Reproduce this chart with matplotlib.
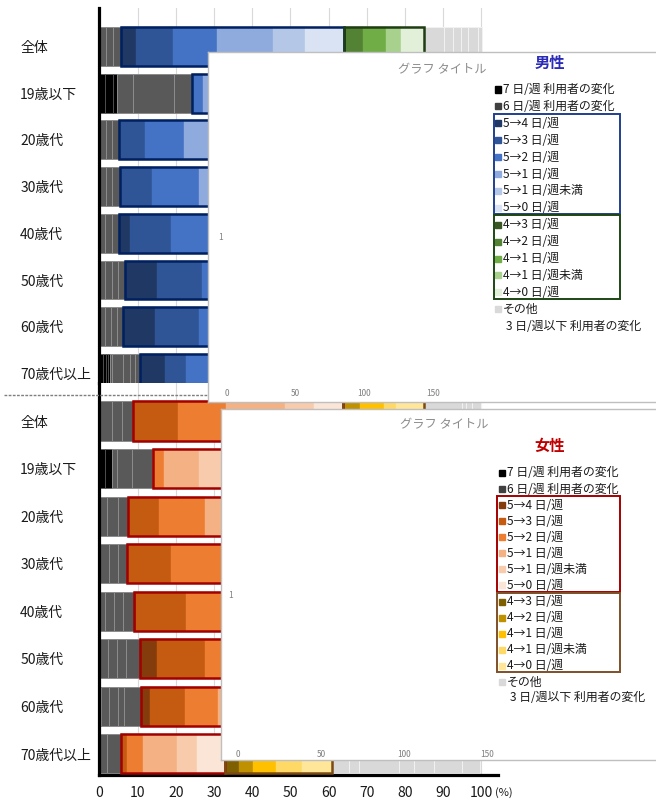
import matplotlib
matplotlib.use('Agg')
import matplotlib.pyplot as plt
from matplotlib.patches import Rectangle
from matplotlib.lines import Line2D

plt.rcParams['font.family'] = ['Noto Sans CJK JP', 'DejaVu Sans']

# ---- data (percent) ----
ROWS = ['全体', '19歳以下', '20歳代', '30歳代', '40歳代', '50歳代', '60歳代', '70歳代以上']

LEGEND_LABELS = ['7 日/週 利用者の変化', '6 日/週 利用者の変化',
                 '5→4 日/週', '5→3 日/週', '5→2 日/週', '5→1 日/週', '5→1 日/週未満', '5→0 日/週',
                 '4→3 日/週', '4→2 日/週', '4→1 日/週', '4→1 日/週未満', '4→0 日/週',
                 'その他', '3 日/週以下 利用者の変化']

# male: 7 days / 6 days users split into their change categories
male_d7 = [[], [1.5, 2.1, 1.0], [], [], [], [], [], [1.0, 0.7, 0.45, 0.6]]
male_d6 = [[1.8, 1.8, 2.0], [4.3, 10.7, 4.6], [1.7, 1.5, 2.0], [1.6, 1.6, 2.2],
           [1.5, 1.7, 2.0], [1.5, 1.7, 1.7, 1.8], [1.5, 1.6, 1.5, 1.7], [0.45, 3.0, 1.75, 1.3, 1.3]]
# 5->4, 5->3, 5->2, 5->1, 5->1未満, 5->0
male_d5 = [[4.1, 9.6, 11.4, 14.8, 8.3, 10.2], [0, 0, 2.9, 7.5, 6.0, 9.5],
           [0.2, 6.5, 10.2, 16.0, 9.0, 12.5], [0.2, 8.3, 12.2, 15.5, 8.5, 10.0],
           [2.8, 10.7, 12.5, 14.0, 7.5, 9.0], [8.3, 11.8, 12.0, 12.5, 6.5, 8.0],
           [8.3, 11.6, 11.0, 12.0, 6.0, 8.5], [6.5, 5.7, 9.0, 10.0, 5.5, 8.0]]
# 4->3, 4->2, 4->1, 4->1未満, 4->0
male_d4 = [[0.3, 4.6, 6.1, 3.9, 6.0], [0.5, 3.5, 6.0, 4.0, 8.0], [0.3, 4.2, 6.5, 4.0, 6.5],
           [0.3, 4.5, 6.0, 3.8, 6.2], [0.4, 5.0, 6.2, 3.5, 5.5], [0.6, 5.0, 5.5, 3.5, 5.0],
           [0.8, 5.0, 5.5, 3.0, 5.5], [1.5, 4.0, 5.0, 3.5, 6.0]]
male_other = [[5.2, 2.4, 2.1, 1.8, 2.6, 1.1], [10.0, 8.0, 9.9], [6.0, 5.0, 7.9], [7.0, 6.0, 6.1],
              [6.0, 6.0, 5.7], [5.0, 5.0, 4.6], [5.5, 5.5, 5.5], [8.0, 8.0, 8.6]]

female_d7 = [[], [1.5, 1.7], [], [], [], [], [0.4], []]
female_d6 = [[3.2, 2.6, 2.9], [1.5, 3.8, 5.6], [1.9, 2.9, 2.6], [2.6, 2.4, 2.2],
             [1.5, 2.2, 2.6, 2.8], [2.3, 2.4, 2.3, 3.6], [2.0, 2.5, 1.5, 4.6], [1.9, 3.7]]
female_d5 = [[0.2, 11.6, 12.7, 15.4, 7.6, 7.6], [0, 0, 2.8, 9.2, 6.5, 8.0],
             [0.2, 8.1, 12.0, 15.0, 8.0, 9.0], [0.2, 11.4, 13.5, 14.0, 7.0, 7.5],
             [0.4, 13.3, 13.0, 13.5, 6.5, 7.0], [4.4, 12.7, 12.0, 12.0, 5.5, 6.5],
             [2.3, 9.2, 8.5, 11.0, 6.5, 8.0], [0.2, 1.5, 4.0, 9.1, 5.2, 7.3]]
female_d4 = [[0.3, 4.2, 6.3, 3.1, 7.3], [0.5, 3.5, 6.0, 5.0, 8.0], [0.3, 4.0, 6.0, 3.5, 7.0],
             [0.3, 4.5, 6.0, 3.5, 6.5], [0.4, 4.5, 5.5, 3.0, 6.0], [0.8, 4.5, 5.5, 3.0, 5.5],
             [1.2, 4.5, 5.5, 3.5, 6.5], [3.7, 3.5, 6.1, 6.9, 7.8]]
female_other = [[9.9, 1.0, 1.6, 2.5], [12.0, 12.0, 12.4], [7.0, 6.0, 6.5], [6.5, 6.0, 5.9],
                [6.0, 6.0, 5.8], [6.0, 5.5, 5.5], [8.0, 7.0, 7.3],
                [4.5, 2.6, 10.5, 3.9, 5.2, 7.3, 4.7]]

# ---- colours ----
C7, C6, COTHER = '#000000', '#595959', '#D9D9D9'
BLUES = ['#203864', '#2F5597', '#4472C4', '#8FAADC', '#B4C7E7', '#DAE3F3']
GREENS = ['#385723', '#548235', '#70AD47', '#A9D18E', '#E2F0D9']
REDS = ['#843C0C', '#C55A11', '#ED7D31', '#F4B183', '#F8CBAD', '#FBE5D6']
GOLDS = ['#7F6000', '#BF9000', '#FFC000', '#FFD966', '#FFE699']

W, H = 656, 801
fig = plt.figure(figsize=(W / 100, H / 100), dpi=100)


def fx(x):
    return x / W


def fy(y):
    return 1 - y / H


def axes_px(left, top, right, bottom, **kw):
    return fig.add_axes([fx(left), fy(bottom), fx(right) - fx(left), fy(top) - fy(bottom)], **kw)


def draw_panel(ax, d7, d6, d5, d4, other, c5, c4, edge5, edge4, height):
    for i in range(len(ROWS)):
        left = 0
        for w in d7[i]:
            ax.barh(i, w, left=left, height=height, color=C7, edgecolor='#595959', lw=0.5)
            left += w
        for w in d6[i]:
            ax.barh(i, w, left=left, height=height, color=C6, edgecolor='#8C8C8C', lw=0.7)
            left += w
        start5 = left
        for w, c in zip(d5[i], c5):
            ax.barh(i, w, left=left, height=height, color=c, edgecolor=c, lw=0.3)
            left += w
        ax.barh(i, left - start5, left=start5, height=height, fill=False,
                edgecolor=edge5, lw=1.8, zorder=3)
        start4 = left
        for w, c in zip(d4[i], c4):
            ax.barh(i, w, left=left, height=height, color=c, edgecolor=c, lw=0.3)
            left += w
        ax.barh(i, left - start4, left=start4, height=height, fill=False,
                edgecolor=edge4, lw=1.8, zorder=3)
        for w in other[i]:
            ax.barh(i, w, left=left, height=height, color=COTHER, edgecolor='#F2F2F2', lw=0.7)
            left += w

    ax.set_xlim(0, 104.3)
    ax.set_xticks(range(0, 101, 10))
    ax.grid(axis='x', color='#D9D9D9', lw=0.8)
    ax.set_axisbelow(True)
    ax.set_yticks(range(len(ROWS)), ROWS)
    for lab in ax.get_yticklabels():
        lab.set_ha('left')
    ax.tick_params(axis='y', length=0, pad=57, labelsize=10, labelcolor='#1a1a1a')
    for s in ['top', 'right']:
        ax.spines[s].set_visible(False)
    ax.spines['left'].set_linewidth(2.3)
    ax.spines['left'].set_color('black')


# top panel (male), its last bar is cut at the bottom edge
ax_m = axes_px(99.4, 8, 497.8, 383)
draw_panel(ax_m, male_d7, male_d6, male_d5, male_d4, male_other,
           BLUES, GREENS, '#002060', '#1E3D12', 0.835)
ax_m.set_ylim((383 - 46.5) / 46.7, (8 - 46.5) / 46.7)
ax_m.spines['bottom'].set_visible(False)
ax_m.tick_params(axis='x', length=0, labelbottom=False)

# bottom panel (female)
ax_f = axes_px(99.4, 383, 497.8, 775)
draw_panel(ax_f, female_d7, female_d6, female_d5, female_d4, female_other,
           REDS, GOLDS, '#A00000', '#7B4A12', 0.82)
ax_f.set_ylim((775 - 421) / 47.57, (383 - 421) / 47.57)
ax_f.spines['bottom'].set_linewidth(2.3)
ax_f.spines['bottom'].set_color('black')
ax_f.tick_params(axis='x', length=0, pad=8, labelsize=10, labelcolor='#1a1a1a')
fig.text(fx(495), fy(793), '(%)', fontsize=8, ha='left', va='center', color='#1a1a1a')

# dashed separator between the panels
fig.add_artist(Line2D([fx(4), fx(215)], [fy(395), fy(395)], transform=fig.transFigure,
                      color='#7F7F7F', lw=1.0, ls=(0, (2, 1)), zorder=1))


# ---- the two empty chart objects lying on top ----
def overlay(left, top, bottom, inner, title_xy, ticks_pad):
    box = axes_px(left, top, 720, bottom, zorder=5)
    box.set_facecolor('white')
    box.set_xticks([])
    box.set_yticks([])
    for s in box.spines.values():
        s.set_color('#BFBFBF')
        s.set_linewidth(1.0)
    inn = axes_px(*inner, zorder=6)
    inn.patch.set_alpha(0)
    inn.set_xlim(0, 150)
    inn.set_xticks([0, 50, 100, 150])
    inn.set_ylim(0, 2)
    inn.set_yticks([1])
    for s in inn.spines.values():
        s.set_visible(False)
    inn.tick_params(length=0, labelsize=6, labelcolor='#7F7F7F', pad=ticks_pad)
    fig.text(fx(title_xy[0]), fy(title_xy[1]), 'グラフ タイトル', fontsize=8.8,
             color='#8C8C8C', ha='center', va='center', zorder=7)


overlay(208, 52, 402, (227, 87, 433, 385), (442, 70), 3)
overlay(221, 409, 760, (238, 444, 487, 744), (444, 425), 4)


def legend(title, title_color, x_mark, x_text, y0, step, c5, c4, edge5, edge4, box_x):
    fig.text(fx(550), fy(y0 - 27), title, fontsize=11, fontweight='bold',
             color=title_color, ha='center', va='center', zorder=8)
    colors = [C7, '#404040'] + c5 + c4 + [COTHER, None]
    ys = [y0 + step * k for k in range(len(LEGEND_LABELS))]
    for lab, c, y in zip(LEGEND_LABELS, colors, ys):
        if c is not None:
            fig.add_artist(Rectangle((fx(x_mark - 3), fy(y + 3)), 6 / W, 6 / H,
                                     transform=fig.transFigure, color=c, zorder=8))
            tx = x_text
        else:
            tx = x_text + 3
        fig.text(fx(tx), fy(y), lab, fontsize=8.6, color='#1a1a1a',
                 ha='left', va='center', zorder=8)
    for first, last, ec in [(2, 7, edge5), (8, 12, edge4)]:
        top = ys[first] - 0.55 * step
        bot = ys[last] + 0.38 * step
        fig.add_artist(Rectangle((fx(box_x), fy(bot)), (620 - box_x) / W, (bot - top) / H,
                                 transform=fig.transFigure, fill=False, ec=ec, lw=1.4, zorder=8))


legend('男性', '#2B2BB8', 498, 503, 89.5, 16.9, BLUES, GREENS, '#1F3F8F', '#1E4614', 494)
legend('女性', '#C00000', 502, 507, 473, 16.07, REDS, GOLDS, '#A50000', '#7F5028', 497)

fig.savefig('out.png', dpi=100)
